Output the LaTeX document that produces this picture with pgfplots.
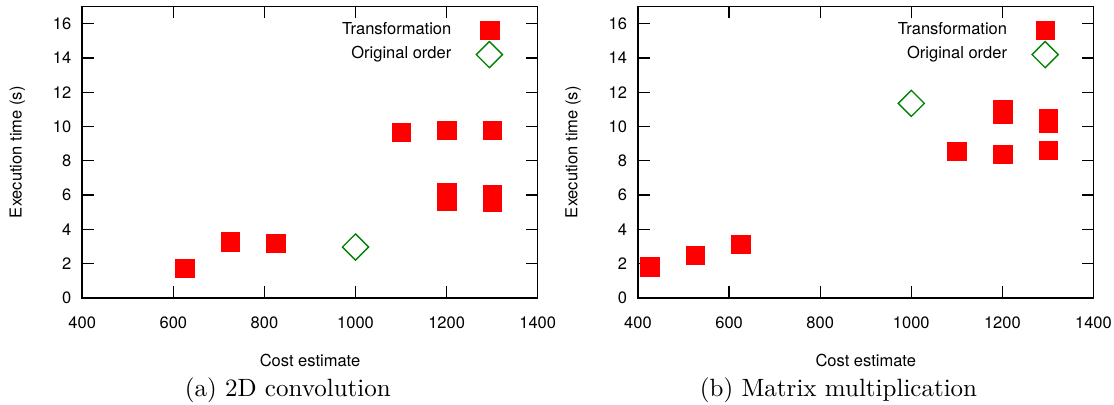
\documentclass[border=0pt]{standalone}
\usepackage{fontspec}
\usepackage{pgfplots}
\pgfplotsset{compat=1.18}
\newfontfamily\hv{TeX Gyre Heros}
\definecolor{mygreen}{RGB}{0,128,0}

\pgfplotsset{
  myaxis/.style={
    scale only axis, width=182.2pt, height=116.6pt,
    xmin=400, xmax=1400, ymin=0, ymax=17,
    xtick={400,600,...,1400}, ytick={0,2,...,16},
    tick align=inside, major tick length=4.7pt,
    axis line style={line width=0.6pt},
    every tick/.style={black, line width=0.5pt},
    /pgf/number format/assume math mode=true,
    /pgf/number format/1000 sep={},
    tick label style={font=\hv\fontsize{6.6}{7.5}\selectfont, inner sep=0pt},
    xticklabel style={yshift=-7.5pt},
    yticklabel style={xshift=-4.2pt},
    xlabel={Cost estimate}, ylabel={Execution time (s)},
    label style={font=\hv\fontsize{6.6}{7.5}\selectfont, inner sep=0pt},
    xlabel style={at={(axis description cs:0.5,-0.1895)}, anchor=north},
    ylabel style={at={(axis description cs:-0.1427,0.5)}, anchor=center},
    clip=false,
    legend plot pos=right,
    legend cell align=right,
    legend style={draw=none, fill=none, at={(rel axis cs:1,1)}, xshift=-14.1pt, yshift=-5.7pt,
      anchor=north east, inner sep=0pt, outer sep=0pt, row sep=0.9pt, column sep=10pt,
      font=\hv\fontsize{6.6}{7.5}\selectfont, nodes={inner sep=0pt}},
    legend image code/.code={\draw[##1] plot coordinates {(0pt,0pt)};},
  },
  transf/.style={only marks, mark=square*, mark size=3.7pt,
    mark options={draw=red, fill=red, line width=0.1pt}},
  orig/.style={only marks, mark=square, mark size=3.7pt,
    mark options={rotate=45, draw=mygreen, line width=0.55pt}},
}

\begin{document}
\begin{tikzpicture}
\path[use as bounding box] (0,0) rectangle (445.6pt,162pt);

\begin{axis}[myaxis, at={(32.9pt,42.8pt)}, anchor=south west]
\addplot[transf] coordinates {
  (625,1.73) (725,3.30) (825,3.19) (1100,9.66) (1200,9.78) (1300,9.78)
  (1200,6.15) (1200,5.65) (1300,6.05) (1300,5.58)};
\addlegendentry{Transformation}
\addplot[orig] coordinates {(1000,2.97)};
\addlegendentry{Original order}
\end{axis}

\begin{axis}[myaxis, at={(255.2pt,42.8pt)}, anchor=south west]
\addplot[transf] coordinates {
  (425,1.84) (525,2.49) (625,3.13) (1100,8.55) (1200,8.38) (1300,8.61)
  (1200,11.00) (1200,10.71) (1300,10.48) (1300,10.24)};
\addlegendentry{Transformation}
\addplot[orig] coordinates {(1000,11.35)};
\addlegendentry{Original order}
\end{axis}

\node[anchor=base] at (115.1pt,3.2pt) {(a) 2D convolution};
\node[anchor=base] at (335.4pt,3.2pt) {(b) Matrix multiplication};
\end{tikzpicture}
\end{document}
